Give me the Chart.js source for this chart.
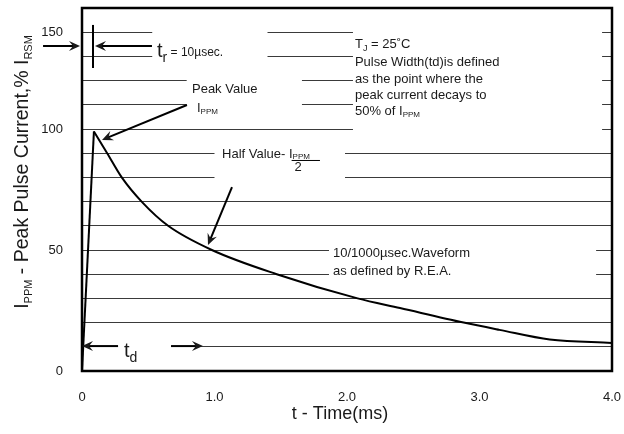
<!DOCTYPE html>
<html>
<head>
<meta charset="utf-8">
<title>10/1000usec waveform</title>
<script src="https://cdn.jsdelivr.net/npm/chart.js@4.4.1/dist/chart.umd.min.js"></script>
<style>
  body { margin: 0; background: #fff; }
  #wrap { width: 624px; height: 434px; }
</style>
</head>
<body>
<div id="wrap"><canvas id="pulse" width="624" height="434"></canvas></div>
<script>
// values (t in ms, current in % of peak)
const timeMs     = [0, 0.09, 0.19, 0.3, 0.45, 0.65, 0.98, 1.47, 2.08, 2.40, 2.88, 3.15, 3.53, 4.0];
const currentPct = [0, 99,   90,   80,  70,   60,   50,   40,   30,   26,   20,   17,   13,   11.6];

const yTickValues = [0, 50, 100, 140];
const yTickText   = ['0', '50', '100', '150'];
const xTickText   = ['0', '1.0', '2.0', '3.0', '4.0'];

const FONT = '"Liberation Sans", Arial, sans-serif';
const INK = '#1a1a1a';

var pts = timeMs.map(function (t, i) { return { x: t, y: currentPct[i] }; });
var risePts = pts.slice(0, 2);
var decayPts = pts.slice(1);

// white boxes behind the notes, in data units [x1, x2, y1, y2]
var gaps = [
  [0.53, 1.40, 127, 143],
  [0.79, 1.66, 107, 123],
  [2.045, 3.925, 97, 143],
  [1.0, 1.985, 77, 93],
  [1.864, 3.88, 37, 53],
  [0.272, 0.672, 8, 12]
];

function arrow(ctx, x1, y1, x2, y2) {
  var a = Math.atan2(y2 - y1, x2 - x1), L = 11, W = 5;
  ctx.beginPath();
  ctx.moveTo(x1, y1);
  ctx.lineTo(x2 - Math.cos(a) * 6, y2 - Math.sin(a) * 6);
  ctx.stroke();
  ctx.beginPath();
  ctx.moveTo(x2, y2);
  ctx.lineTo(x2 - L * Math.cos(a) + W * Math.sin(a), y2 - L * Math.sin(a) - W * Math.cos(a));
  ctx.lineTo(x2 - 7 * Math.cos(a), y2 - 7 * Math.sin(a));
  ctx.lineTo(x2 - L * Math.cos(a) - W * Math.sin(a), y2 - L * Math.sin(a) + W * Math.cos(a));
  ctx.closePath();
  ctx.fill();
}

// parts: [text, size, dy]; returns end x
function runText(ctx, parts, x, y) {
  parts.forEach(function (p) {
    ctx.font = p[1] + 'px ' + FONT;
    ctx.fillText(p[0], x, y + (p[2] || 0));
    x += ctx.measureText(p[0]).width;
  });
  return x;
}

function noPad(s) { s.paddingTop = 0; s.paddingBottom = 0; s.paddingLeft = 0; s.paddingRight = 0; }

var notes = {
  id: 'notes',
  beforeDatasetsDraw: function (chart) {
    var ctx = chart.ctx, xs = chart.scales.x, ys = chart.scales.y;
    ctx.save();
    ctx.fillStyle = '#fff';
    gaps.forEach(function (g) {
      var l = xs.getPixelForValue(g[0]), r = xs.getPixelForValue(g[1]);
      var t = ys.getPixelForValue(g[3]), b = ys.getPixelForValue(g[2]);
      ctx.fillRect(l, t, r - l, b - t);
    });
    ctx.restore();
  },
  afterDraw: function (chart) {
    var ctx = chart.ctx, xs = chart.scales.x, ys = chart.scales.y, a = chart.chartArea;
    var X = function (v) { return xs.getPixelForValue(v); };
    var Y = function (v) { return ys.getPixelForValue(v); };
    ctx.save();
    // frame
    ctx.strokeStyle = '#000';
    ctx.lineWidth = 2.5;
    ctx.strokeRect(a.left, a.top, a.right - a.left, a.bottom - a.top);

    ctx.fillStyle = INK;
    ctx.strokeStyle = '#000';
    ctx.lineWidth = 2;
    ctx.textBaseline = 'alphabetic';

    // rise time
    arrow(ctx, X(-0.294), Y(134.3), X(-0.015), Y(134.3));
    arrow(ctx, X(0.528), Y(134.3), X(0.098), Y(134.3));
    ctx.beginPath(); ctx.moveTo(X(0.083), Y(143)); ctx.lineTo(X(0.083), Y(125.2)); ctx.stroke();
    runText(ctx, [['t', 20, 0], ['r', 14, 5], [' = 10µsec.', 12, -1]], X(0.566), Y(129.8));

    // peak
    runText(ctx, [['Peak Value', 13, 0]], X(0.83), Y(114.9));
    runText(ctx, [['I', 13, 0], ['PPM', 8, 2]], X(0.868), Y(107.0));
    arrow(ctx, X(0.792), Y(109.9), X(0.151), Y(95.5));

    // half value
    var xi = runText(ctx, [['Half Value- I', 13, 0]], X(1.057), Y(88.0));
    var xe = runText(ctx, [['PPM', 8, 1]], xi, Y(88.0));
    ctx.lineWidth = 1;
    ctx.beginPath(); ctx.moveTo(xi - 1, Y(87.2) + 0.5); ctx.lineTo(xe + 10, Y(87.2) + 0.5); ctx.stroke();
    runText(ctx, [['2', 13, 0]], xi + 2, Y(84.7) + 5);
    ctx.lineWidth = 2;
    arrow(ctx, X(1.132), Y(76.0), X(0.951), Y(52.1));

    // TJ block
    var tx = X(2.06);
    runText(ctx, [['T', 13, 0], ['J', 9, 3], [' = 25˚C', 13, 0]], tx, Y(133.5));
    runText(ctx, [['Pulse Width(td)is defined', 13, 0]], tx, Y(126.0));
    runText(ctx, [['as the point where the', 13, 0]], tx, Y(119.0));
    runText(ctx, [['peak current decays to', 13, 0]], tx, Y(112.4));
    runText(ctx, [['50% of I', 13, 0], ['PPM', 8, 2]], tx, Y(105.8));

    // waveform note
    runText(ctx, [['10/1000µsec.Waveform', 13, 0]], X(1.894), Y(47.1));
    runText(ctx, [['as defined by R.E.A.', 13, 0]], X(1.894), Y(39.7));

    // pulse width
    arrow(ctx, X(0.272), Y(10.3), X(0), Y(10.3));
    runText(ctx, [['t', 20, 0], ['d', 14, 5]], X(0.317), Y(5.8));
    arrow(ctx, X(0.672), Y(10.3), X(0.913), Y(10.3));

    // axis titles
    ctx.fillStyle = INK;
    ctx.font = '18px ' + FONT;
    ctx.textAlign = 'center';
    ctx.fillText('t - Time(ms)', 340, 419);

    ctx.textAlign = 'left';
    var yParts = [['I', 19.5, 0], ['PPM', 11, 4], [' - Peak Pulse Current,% I', 19.5, 0], ['RSM', 11, 4]];
    var w = 0;
    yParts.forEach(function (p) { ctx.font = p[1] + 'px ' + FONT; w += ctx.measureText(p[0]).width; });
    ctx.translate(28, 172);
    ctx.rotate(-Math.PI / 2);
    runText(ctx, yParts, -w / 2, 0);
    ctx.restore();
  }
};

new Chart(document.getElementById('pulse'), {
  type: 'scatter',
  data: {
    datasets: [
      { data: risePts, showLine: true, borderColor: '#000', borderWidth: 2, pointRadius: 0, tension: 0 },
      { data: decayPts, showLine: true, borderColor: '#000', borderWidth: 2, pointRadius: 0, cubicInterpolationMode: 'monotone' }
    ]
  },
  plugins: [notes],
  options: {
    responsive: false,
    animation: false,
    layout: { padding: { top: 8, right: 12, left: 0, bottom: 0 } },
    plugins: { legend: { display: false }, tooltip: { enabled: false } },
    scales: {
      x: {
        type: 'linear', min: 0, max: 4,
        afterFit: function (s) { s.height = 63; noPad(s); },
        border: { display: false },
        grid: { display: false, drawTicks: false },
        ticks: {
          stepSize: 1, padding: 19, color: INK, font: { family: FONT, size: 13 },
          callback: function (v) { return xTickText[v]; }
        }
      },
      y: {
        min: 0, max: 150,
        afterFit: function (s) { s.width = 82; noPad(s); },
        border: { display: false },
        grid: { color: '#3a3a3a', lineWidth: 1, drawTicks: false },
        ticks: {
          stepSize: 10, padding: 19, color: INK, font: { family: FONT, size: 13 },
          callback: function (v) {
            var i = yTickValues.indexOf(v);
            return i < 0 ? '' : yTickText[i];
          }
        }
      }
    }
  }
});
</script>
</body>
</html>
